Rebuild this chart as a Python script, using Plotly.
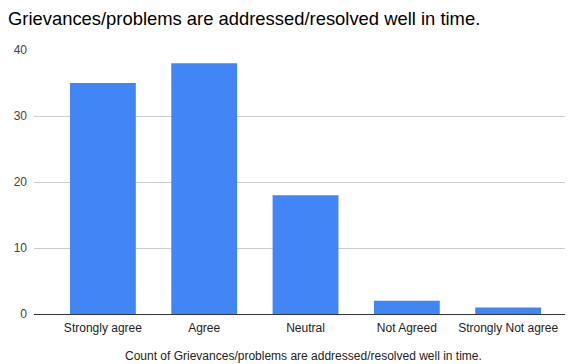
import plotly.graph_objects as go

categories = ["Strongly agree", "Agree", "Neutral", "Not Agreed", "Strongly Not agree"]
counts = [35, 38, 18, 2, 1]
y_ticks = [0, 10, 20, 30, 40]
title_text = "Grievances/problems are addressed/resolved well in time."
x_title = "Count of Grievances/problems are addressed/resolved well in time."

# The page body adds an 8px offset, so the figure is sized to fit the remaining window.
W, H = 565, 356
plot_h = 264

fig = go.Figure(go.Bar(
    x=list(range(len(categories))), y=counts,
    marker=dict(color="#4285F4", line=dict(width=0)),
))
fig.update_layout(
    width=W, height=H,
    margin=dict(l=26, r=0, t=42, b=50, autoexpand=False),
    paper_bgcolor="white", plot_bgcolor="white",
    bargap=0.35,
    font=dict(family="Liberation Sans, Arial, sans-serif", color="#222222"),
    title=dict(text=title_text, x=0, xanchor="left", xref="container",
               y=1 - 4 / H, yanchor="top", yref="container",
               font=dict(size=18.4, color="#000000")),
    showlegend=False,
    annotations=[dict(text=x_title, xref="paper", yref="paper", x=0.5, y=-33 / plot_h,
                      xanchor="center", yanchor="top", showarrow=False,
                      font=dict(size=12, color="#222222"))],
)
fig.update_xaxes(
    range=[-0.68, 4.64], automargin=False,
    tickmode="array", tickvals=list(range(len(categories))), ticktext=categories,
    tickfont=dict(size=12, color="#222222"),
    showgrid=False, zeroline=False, showline=False,
    ticks="outside", ticklen=3, tickcolor="rgba(0,0,0,0)",
)
fig.update_yaxes(
    range=[0, 40], tickvals=y_ticks, automargin=False,
    tickfont=dict(size=12, color="#444444"),
    showgrid=True, gridcolor="#cccccc", gridwidth=1,
    zeroline=True, zerolinecolor="#333333", zerolinewidth=1,
    showline=False, ticks="", ticklabelstandoff=6,
)
fig.write_html("out.html")
